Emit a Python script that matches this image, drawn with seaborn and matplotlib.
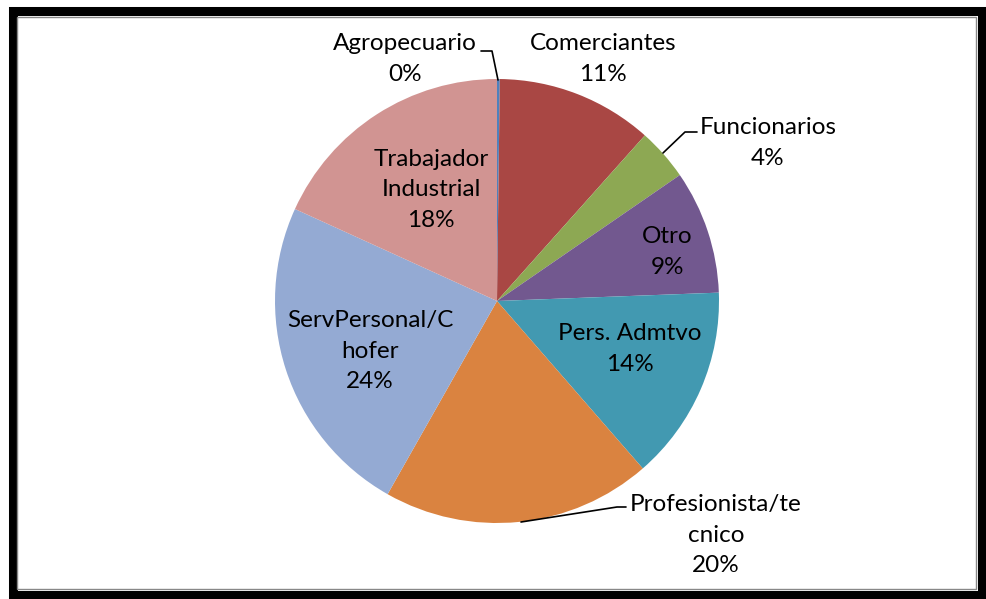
import matplotlib
matplotlib.use("Agg")
import matplotlib.pyplot as plt
import matplotlib.patches as mpatches
import seaborn as sns

# ── Data ──────────────────────────────────────────────────────────────────────
categories = ["Agropecuario", "Comerciantes", "Funcionarios", "Otro",
              "Pers. Admtvo", "Profesionista/te\ncnico", "ServPersonal/C\nhofer",
              "Trabajador\nIndustrial"]
shares = [0.2, 11.4, 3.8, 9.0, 14.2, 19.6, 23.6, 18.2]
colors = ["#4F81BD", "#A94744", "#8DA853", "#72588F", "#4299B1",
          "#DA8340", "#94AAD3", "#D19492"]

# label placement (pixel coords, y from top) and optional leader lines
label_pos = [(405, 59), (603, 59), (768, 143), (667, 252),
             (630, 349), (716, 535), (370, 351), (431, 190)]
leaders = {
    0: [(481, 51), (492, 51), (498, 80)],
    2: [(663, 153), (685, 132), (697, 132)],
    5: [(521, 522), (617, 507), (626, 507)],
}

# ── Plot ──────────────────────────────────────────────────────────────────────
sns.set_theme(style="white")
plt.rcParams["font.family"] = ["Lato", "DejaVu Sans"]

W, H = 986, 599
fig = plt.figure(figsize=(W / 100, H / 100), dpi=100)
ax = fig.add_axes([0, 0, 1, 1])

ax.pie(shares, colors=colors, startangle=90, counterclock=False,
       center=(497, H - 301), radius=222,
       wedgeprops={"linewidth": 0})
ax.set_xlim(0, W)
ax.set_ylim(0, H)
ax.set_aspect("equal")
ax.axis("off")

for i, (name, val) in enumerate(zip(categories, shares)):
    x, y = label_pos[i]
    ax.text(x, H - y, f"{name}\n{val:.0f}%", ha="center", va="center",
            fontsize=17.5, color="black", linespacing=1.55)

for pts in leaders.values():
    ax.plot([p[0] for p in pts], [H - p[1] for p in pts],
            color="black", linewidth=1.2)

# chart frame
fig.patches.append(mpatches.Rectangle((12.5 / W, 4.5 / H), (981.5 - 12.5) / W,
                                      (594 - 10.5) / H, transform=fig.transFigure,
                                      fill=False, edgecolor="black", linewidth=6.5))
fig.patches.append(mpatches.Rectangle((17 / W, 10 / H), (976 - 17) / W,
                                      (588 - 16) / H, transform=fig.transFigure,
                                      fill=False, edgecolor="#888888", linewidth=1))

fig.savefig("out.png", dpi=100)
